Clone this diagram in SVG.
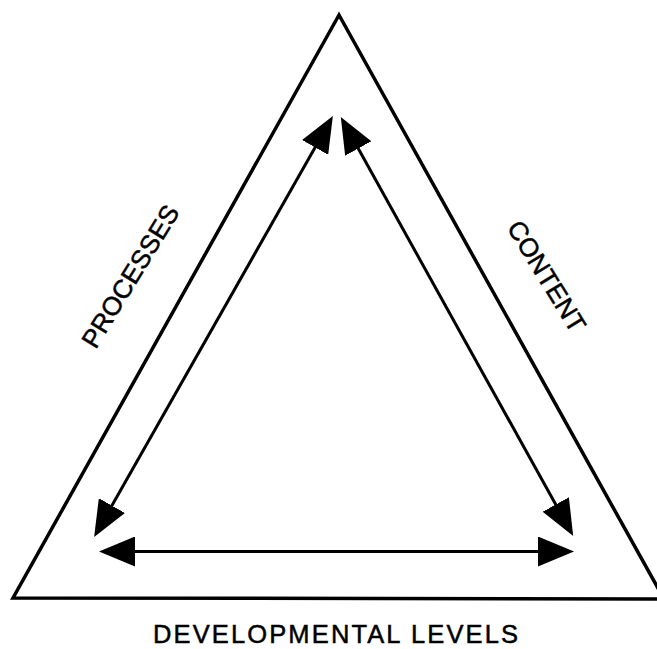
<svg xmlns="http://www.w3.org/2000/svg" width="657" height="649" viewBox="0 0 657 649">
<style>
.frame{fill:none;stroke:#000;stroke-width:3.5;stroke-linejoin:miter}
.conn{fill:none;stroke:#000;stroke-width:3;marker-start:url(#ah);marker-end:url(#ah)}
.lbl{font-family:"Liberation Sans",Arial,sans-serif;fill:#000;stroke:#000;stroke-width:0.5;text-anchor:middle}
</style>
<defs>
<marker id="ah" markerUnits="userSpaceOnUse" markerWidth="36" markerHeight="30" refX="16" refY="15" orient="auto-start-reverse" viewBox="0 0 36 30">
<path d="M0,0 L36,15 L0,30 Z" fill="#000"/>
</marker>
</defs>
<rect width="657" height="649" fill="#fff"/>
<g id="triangle">
<polygon class="frame" points="339,15 13,598 664,599"/>
</g>
<g id="connectors">
<line class="conn" x1="104" y1="519.5" x2="323" y2="133.5"/>
<line class="conn" x1="350.5" y1="134.5" x2="563.5" y2="518.5"/>
<line class="conn" x1="119" y1="551.5" x2="554" y2="551.5"/>
</g>
<g id="processes">
<text class="lbl" font-size="26" transform="translate(138,281) rotate(-58.5)">PROCESSES</text>
</g>
<g id="content">
<text class="lbl" font-size="26" transform="translate(539,281) rotate(58.5)">CONTENT</text>
</g>
<g id="developmental-levels">
<text class="lbl" font-size="25.5" x="335.5" y="643" textLength="365" lengthAdjust="spacing">DEVELOPMENTAL LEVELS</text>
</g>
</svg>
